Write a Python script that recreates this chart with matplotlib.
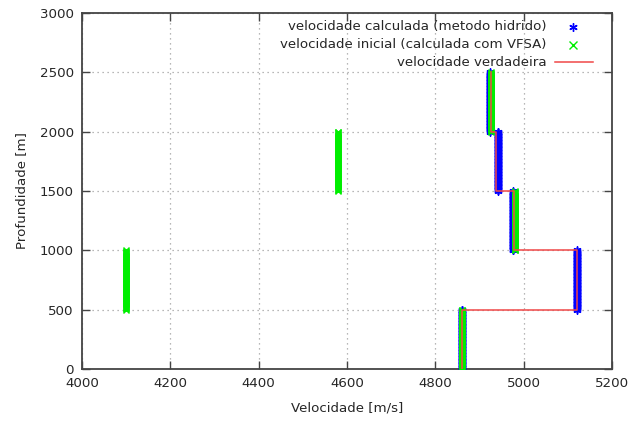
import numpy as np
import matplotlib.pyplot as plt
from matplotlib.lines import Line2D

# layered model: depth intervals [m] and velocities per layer [m/s]
layer_top = [0, 500, 1000, 1500, 2000]
layer_bottom = [500, 1000, 1500, 2000, 2500]
vel_true = [4860, 5120, 4978, 4937, 4925]
vel_calc = [4861, 5120, 4976, 4941, 4924]
vel_init = [4860, 4100, 4980, 4580, 4927]
dz = 5  # sampling interval of the profiles [m]

plt.rcParams['font.family'] = 'DejaVu Sans'
plt.rcParams['font.size'] = 9.6
txt = '#262626'
edge = '#444444'

fig = plt.figure(figsize=(6.4, 4.23), dpi=100)
ax = fig.add_axes([82/640, 1 - 369/423, 530/640, 356/423])

# sampled profiles
z_calc, v_calc, z_init, v_init = [], [], [], []
for top, bot, vc, vi in zip(layer_top, layer_bottom, vel_calc, vel_init):
    z = np.arange(top, bot + dz, dz)
    z_calc.append(z); v_calc.append(np.full(z.size, vc))
    z_init.append(z); v_init.append(np.full(z.size, vi))
z_calc = np.concatenate(z_calc); v_calc = np.concatenate(v_calc)
z_init = np.concatenate(z_init); v_init = np.concatenate(v_init)

ax.plot(v_calc, z_calc, ls='none', marker=(6, 2, 0), ms=5.8, mew=1.0,
        color='#0000ff', zorder=3)
ax.plot(v_init, z_init, ls='none', marker='x', ms=5.0, mew=1.0,
        color='#00ee00', zorder=4)

# true model as a staircase
zs, vs = [], []
for top, bot, v in zip(layer_top, layer_bottom, vel_true):
    zs += [top, bot]
    vs += [v, v]
ax.plot(vs, zs, color='#f04848', lw=1.1, zorder=5)

ax.set_xlim(4000, 5200)
ax.set_ylim(0, 3000)
ax.set_xticks(np.arange(4000, 5201, 200))
ax.set_yticks(np.arange(0, 3001, 500))
ax.grid(True, color='#a0a0a0', ls=(0, (1, 3)), lw=0.9)
ax.tick_params(direction='in', length=6, width=1.0, color=edge,
               top=True, right=True, labelcolor=txt, pad=6)
for s in ax.spines.values():
    s.set_color(edge)
    s.set_linewidth(1.3)

ax.set_xlabel('Velocidade [m/s]', color=txt, labelpad=8)
ax.set_ylabel('Profundidade [m]', color=txt, labelpad=8)

# legend, gnuplot style: right-aligned text with sample to its right
labels = ['velocidade calculada (metodo hidrido)',
          'velocidade inicial (calculada com VFSA)',
          'velocidade verdadeira']
rows = [0.961, 0.911, 0.862]
for lab, y in zip(labels, rows):
    ax.text(0.877, y, lab, transform=ax.transAxes, ha='right', va='center',
            color=txt, zorder=6)
ax.add_line(Line2D([0.926], [rows[0]], transform=ax.transAxes, ls='none',
                   marker=(6, 2, 0), ms=6, mew=1.0, color='#0000ff'))
ax.add_line(Line2D([0.926], [rows[1]], transform=ax.transAxes, ls='none',
                   marker='x', ms=5.5, mew=1.0, color='#00ee00'))
ax.add_line(Line2D([0.892, 0.964], [rows[2], rows[2]], transform=ax.transAxes,
                   color='#f04848', lw=1.1))

fig.savefig('out.png', dpi=100)
